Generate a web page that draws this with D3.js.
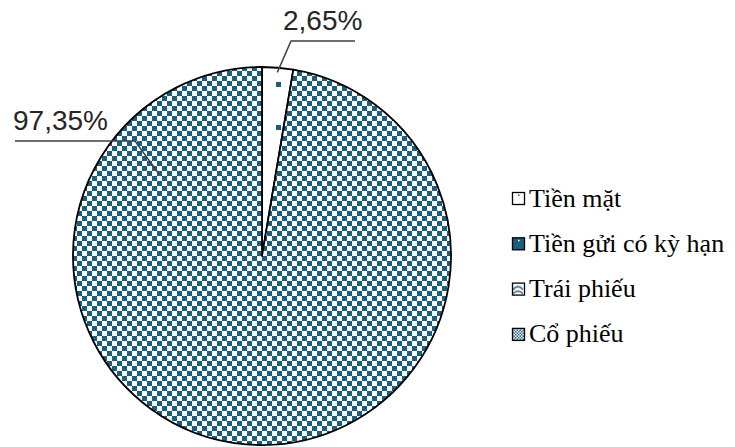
<!DOCTYPE html>
<html>
<head>
<meta charset="utf-8">
<script src="https://cdn.jsdelivr.net/npm/d3@7"></script>
<style>
  html, body { margin: 0; padding: 0; background: #fff; }
  svg { display: block; }
</style>
</head>
<body>
<svg id="chart" width="735" height="447"></svg>
<script>
// Data
const categories = ['Tiền mặt', 'Tiền gửi có kỳ hạn', 'Trái phiếu', 'Cổ phiếu'];
const values = [2.65, 0, 0, 97.35];
const valueLabels = ['2,65%', '', '', '97,35%'];

// Fill pattern id for each category
const patternIds = ['p-cash', 'p-deposit', 'p-bond', 'p-stock'];

// Label placement (leader end as angle in degrees / radius fraction, text anchor point)
const labelLayout = [
  { angle: null, rFrac: 0.975, elbow: [291, 41], lineEnd: 355, textX: 283, textY: 30 },
  null,
  null,
  { angle: 308.6, rFrac: 0.70, elbow: [135, 141], lineEnd: 15, textX: 13, textY: 130 }
];

const blue = '#1b5f80';
const cx = 262, cy = 256, radius = 189;

const svg = d3.select('#chart');
const defs = svg.append('defs');

// Checker pattern (Cổ phiếu)
const checker = defs.append('pattern')
  .attr('id', 'p-stock')
  .attr('patternUnits', 'userSpaceOnUse')
  .attr('width', 10).attr('height', 10);
checker.append('rect').attr('width', 10).attr('height', 10).attr('fill', '#fff');
checker.append('rect').attr('x', 0).attr('y', 0).attr('width', 5).attr('height', 5).attr('fill', blue);
checker.append('rect').attr('x', 5).attr('y', 5).attr('width', 5).attr('height', 5).attr('fill', blue);

// Small checker for the legend swatch
const checkerSmall = defs.append('pattern')
  .attr('id', 'p-stock-small')
  .attr('patternUnits', 'userSpaceOnUse')
  .attr('width', 3).attr('height', 3);
checkerSmall.append('rect').attr('width', 3).attr('height', 3).attr('fill', '#fff');
checkerSmall.append('rect').attr('width', 1.5).attr('height', 1.5).attr('fill', blue);
checkerSmall.append('rect').attr('x', 1.5).attr('y', 1.5).attr('width', 1.5).attr('height', 1.5).attr('fill', blue);

// Sparse dots pattern (Tiền mặt) - coordinates relative to pie centre
const dots = defs.append('pattern')
  .attr('id', 'p-cash')
  .attr('patternUnits', 'userSpaceOnUse')
  .attr('x', 276 - cx).attr('y', 82 - cy)
  .attr('width', 40).attr('height', 43);
dots.append('rect').attr('width', 40).attr('height', 43).attr('fill', '#fff');
dots.append('rect').attr('x', 0).attr('y', 0).attr('width', 5).attr('height', 5).attr('fill', blue);

// Solid blue (Tiền gửi có kỳ hạn)
const deposit = defs.append('pattern')
  .attr('id', 'p-deposit')
  .attr('patternUnits', 'userSpaceOnUse')
  .attr('width', 12).attr('height', 12);
deposit.append('rect').attr('width', 12).attr('height', 12).attr('fill', blue);

// Light wave pattern (Trái phiếu)
const bond = defs.append('pattern')
  .attr('id', 'p-bond')
  .attr('patternUnits', 'userSpaceOnUse')
  .attr('width', 12).attr('height', 12);
bond.append('rect').attr('width', 12).attr('height', 12).attr('fill', '#fff');
bond.append('path')
  .attr('d', 'M1 7 Q6 1 11 7 M1 11 Q6 6 11 11')
  .attr('fill', 'none')
  .attr('stroke', blue)
  .attr('stroke-width', 1.3);

// Pie
const data = categories.map((c, i) => ({ name: c, value: values[i], label: valueLabels[i], idx: i }));

const pie = d3.pie()
  .sort(null)
  .value(d => d.value)
  .startAngle(0)
  .endAngle(2 * Math.PI);

const arcs = pie(data);

const arc = d3.arc()
  .innerRadius(0)
  .outerRadius(radius);

const g = svg.append('g')
  .attr('transform', `translate(${cx},${cy})`);

g.selectAll('path.slice')
  .data(arcs.filter(a => a.data.value > 0))
  .join('path')
  .attr('class', 'slice')
  .attr('d', arc)
  .attr('fill', d => `url(#${patternIds[d.data.idx]})`)
  .attr('stroke', '#000')
  .attr('stroke-width', 1.8)
  .attr('stroke-linejoin', 'round');

// Data labels with leader lines
arcs.forEach(a => {
  const lay = labelLayout[a.index];
  if (!lay || a.data.value <= 0) return;
  const ang = lay.angle == null ? (a.startAngle + a.endAngle) / 2 : lay.angle * Math.PI / 180;
  const r = radius * lay.rFrac;
  const px = cx + r * Math.sin(ang);
  const py = cy - r * Math.cos(ang);

  svg.append('path')
    .attr('d', d3.line()([[lay.lineEnd, lay.elbow[1]], lay.elbow, [px, py]]))
    .attr('fill', 'none')
    .attr('stroke', '#404040')
    .attr('stroke-width', 1.5);

  svg.append('text')
    .attr('x', lay.textX)
    .attr('y', lay.textY)
    .style('font-family', '"Liberation Sans", Arial, sans-serif')
    .style('font-size', '28px')
    .style('fill', '#262626')
    .text(a.data.label);
});

// Legend
const legend = svg.append('g')
  .attr('transform', 'translate(512,192)');

const legendItems = legend.selectAll('g.item')
  .data(data)
  .join('g')
  .attr('class', 'item')
  .attr('transform', (d, i) => `translate(0,${i * 45.3})`);

legendItems.append('rect')
  .attr('x', 0.5).attr('y', 0.5)
  .attr('width', 12).attr('height', 12)
  .attr('fill', d => d.idx === 3 ? 'url(#p-stock-small)' : `url(#${patternIds[d.idx]})`)
  .attr('stroke', '#000')
  .attr('stroke-width', 1.3);

// tiny marks inside the first two swatches
legendItems.filter(d => d.idx < 2).append('rect')
  .attr('x', 6).attr('y', 2.5)
  .attr('width', 1.5).attr('height', 1.5)
  .attr('fill', d => d.idx === 0 ? blue : '#fff');

legendItems.append('text')
  .attr('x', 17)
  .attr('y', 14.5)
  .style('font-family', '"Liberation Serif", "Liberation Sans", sans-serif')
  .style('font-size', '26px')
  .style('fill', '#000')
  .text(d => d.name);
</script>
</body>
</html>
